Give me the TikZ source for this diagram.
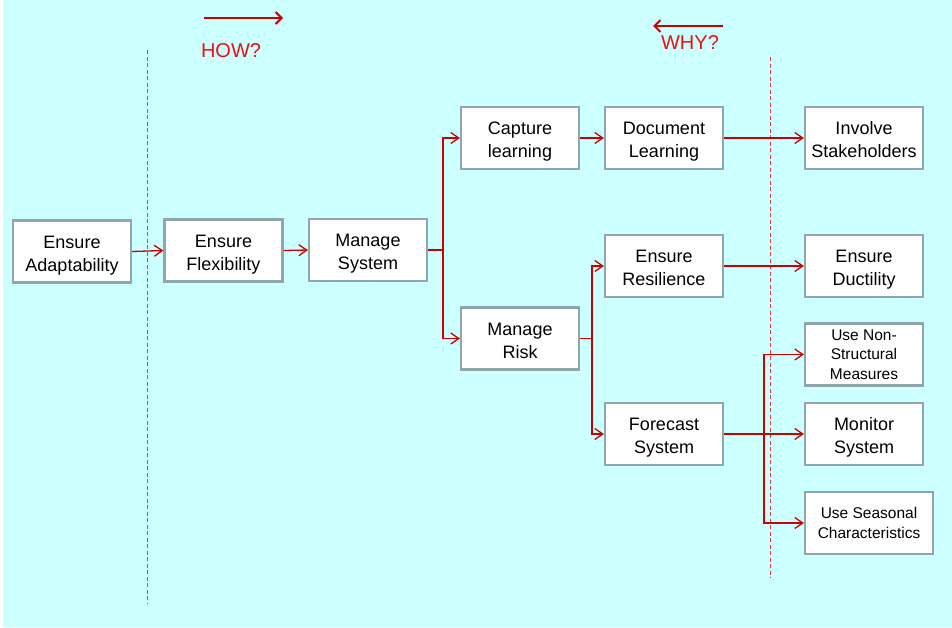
\documentclass[tikz,border=0pt]{standalone}
\usepackage{fontspec}
\setmainfont{Liberation Sans}
\usetikzlibrary{arrows.meta}
\definecolor{bgc}{HTML}{CCFFFF}
\definecolor{boxedge}{HTML}{8FA7AB}
\definecolor{connc}{HTML}{CC0000}
\definecolor{dashc}{HTML}{E83C3C}
\definecolor{qred}{HTML}{F01010}
\tikzset{
 boxbase/.style={draw=boxedge, line width=2.2pt, fill=white, minimum width=118pt, minimum height=62pt, inner sep=1pt, align=center},
 box/.style={boxbase, font=\fontsize{18}{23}\selectfont, text height=44pt, text depth=5pt},
 smallbox/.style={boxbase, font=\fontsize{15.5}{19.5}\selectfont},
 conn/.style={draw=connc, line width=1.3pt, -{Straight Barb[length=8pt,width=11pt]}},
 connline/.style={draw=connc, line width=1.3pt},
 guide/.style={draw=dashc, line width=1pt, dash pattern=on 4pt off 2.5pt},
 dirarrow/.style={draw=connc, line width=2pt, -{Straight Barb[length=6pt,width=12pt]}},
 question/.style={text=qred, font=\fontsize{20}{24}\selectfont, inner sep=0pt}
}
\begin{document}
\begin{tikzpicture}[x=1pt,y=-1pt]
\useasboundingbox (0,0) rectangle (952,627);
\fill[bgc] (3,0) rectangle (952,627);

% guide lines
\coordinate (g1t) at (147,50);
\coordinate (g1b) at (147,603);
\coordinate (g2t) at (770,57);
\coordinate (g2b) at (770,578);
\draw[guide] (g1t) -- (g1b);
\draw[guide] (g2t) -- (g2b);

% HOW / WHY
\coordinate (howA) at (204,18);
\coordinate (howB) at (283,18);
\draw[dirarrow] (howA) -- (howB);
\node[question] (how) at (231,51) {HOW?};
\coordinate (whyA) at (723,26);
\coordinate (whyB) at (653,26);
\draw[dirarrow] (whyA) -- (whyB);
\node[question] (why) at (690,43) {WHY?};

% nodes
\node[box] (ea) at (72,251.5) {Ensure\\Adaptability};
\node[box] (ef) at (223.5,250.5) {Ensure\\Flexibility};
\node[box] (ms) at (368,250) {Manage\\System};
\node[box] (cl) at (520,138) {Capture\\learning};
\node[box] (dl) at (664,138) {Document\\Learning};
\node[box] (is) at (864,138) {Involve\\Stakeholders};
\node[box] (mr) at (520,338.5) {Manage\\Risk};
\node[box] (er) at (664,266) {Ensure\\Resilience};
\node[box] (ed) at (864,266) {Ensure\\Ductility};
\node[box] (fs) at (664,434) {Forecast\\System};
\node[smallbox] (ns) at (864,354.5) {Use Non-\\Structural\\Measures};
\node[box] (mo) at (864,434) {Monitor\\System};
\node[smallbox, minimum width=128pt] (sc) at (869,523) {Use Seasonal\\Characteristics};

% connectors
\draw[conn] (ea.east) -- (ef.west);
\draw[conn] (ef.east) -- (ms.west);
\coordinate (j1) at (443,250);
\draw[connline] (ms.east) -- (j1);
\draw[conn] (j1) |- (cl.west);
\draw[conn] (j1) |- (mr.west);
\draw[conn] (cl.east) -- (dl.west);
\draw[conn] (dl.east) -- (is.west);
\coordinate (j2) at (592,338.5);
\draw[connline] (mr.east) -- (j2);
\draw[conn] (j2) |- (er.west);
\draw[conn] (j2) |- (fs.west);
\draw[conn] (er.east) -- (ed.west);
\coordinate (j3) at (764,434);
\draw[connline] (fs.east) -- (j3);
\draw[conn] (j3) |- (ns.west);
\draw[conn] (j3) -- (mo.west);
\draw[conn] (j3) |- (sc.west);
\end{tikzpicture}
\end{document}
